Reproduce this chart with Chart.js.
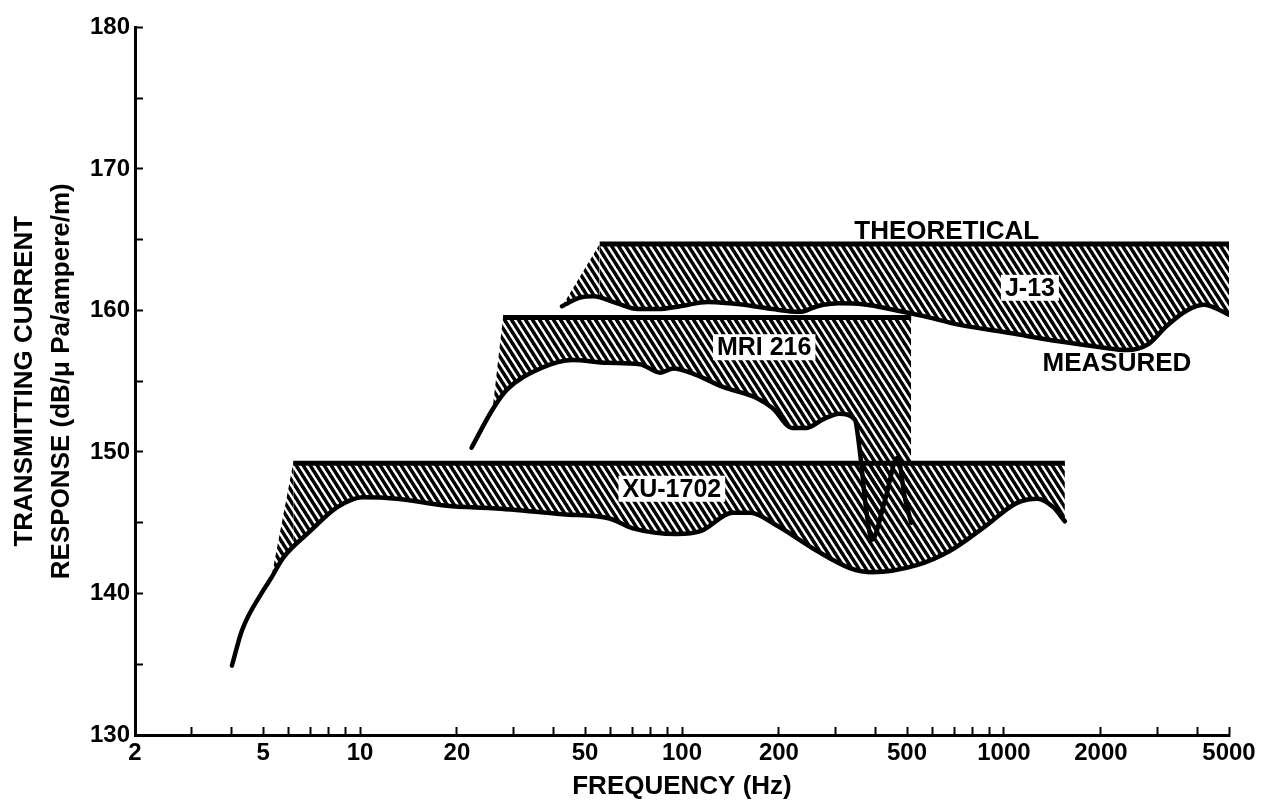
<!DOCTYPE html>
<html>
<head>
<meta charset="utf-8">
<script src="https://cdn.jsdelivr.net/npm/chart.js@4.4.1/dist/chart.umd.min.js"></script>
<style>
  html, body { margin: 0; padding: 0; background: #fff; }
  canvas { display: block; }
</style>
</head>
<body>
<canvas id="chart" width="1262" height="804"></canvas>
<script>
// === ОСИ ===
const xMajorTicks = [2, 5, 10, 20, 50, 100, 200, 500, 1000, 2000, 5000];
const xMinorTicks = [3, 4, 6, 7, 8, 9, 30, 40, 60, 70, 80, 90, 300, 400, 600, 700, 800, 900, 3000, 4000];
const yTickLabels = [130, 140, 150, 160, 170, 180];

// === J-13 ===
const j13Freq = [42.4, 48.2, 53, 62.9, 72.8, 84, 98.8, 120, 141, 167, 191, 232, 263, 308, 375, 442, 563, 723, 1044, 1500, 2000, 2400, 2800, 3200, 3700, 4200, 4600, 5000];
const j13Measured = [160.3, 160.9, 161.0, 160.5, 160.1, 160.1, 160.3, 160.6, 160.5, 160.3, 160.1, 159.9, 160.3, 160.5, 160.4, 160.1, 159.6, 159.0, 158.4, 157.8, 157.4, 157.2, 157.6, 158.9, 160.0, 160.4, 160.1, 159.7];
const j13TheoFreq = [42.4, 55.5, 5000];
const j13Theo = [160.3, 164.7, 164.7];

// === MRI 216 ===
const mriFreq = [22.2, 25.8, 28.6, 36.3, 45.8, 58.5, 74, 85.6, 94, 109, 134, 171, 191, 220, 244, 274, 308, 344, 357, 373, 389, 426, 468, 492, 515];
const mriMeasured = [150.3, 153.0, 154.4, 155.9, 156.5, 156.3, 156.2, 155.6, 155.9, 155.5, 154.6, 153.8, 153.1, 151.7, 151.7, 152.3, 152.7, 152.3, 150.0, 146.0, 143.8, 146.5, 149.6, 146.8, 145.0];
const mriTheoFreq = [25.8, 27.8, 515];
const mriTheo = [153.0, 159.5, 159.5];

// === XU-1702 ===
const xuFreq = [4.0, 4.3, 5.0, 5.3, 5.76, 7.0, 8.5, 10.2, 13, 18.6, 26.6, 42.6, 59.6, 70.4, 96.6, 114, 144, 163, 197, 263, 332, 390, 536, 678, 858, 1098, 1270, 1422, 1546];
const xuMeasured = [134.9, 137.4, 140.2, 141.1, 142.5, 144.4, 146.1, 146.8, 146.7, 146.2, 146.0, 145.6, 145.3, 144.6, 144.2, 144.4, 145.7, 145.7, 144.8, 143.0, 141.8, 141.5, 142.0, 143.0, 144.6, 146.4, 146.7, 146.1, 145.1];
const xuTheoFreq = [5.3, 6.2, 1546];
const xuTheo = [141.1, 149.2, 149.2];

// подписи на графике (в координатах данных)
const notes = [
    { text: 'THEORETICAL', f: 664, v: 165.6, size: 26, box: false },
    { text: 'MEASURED', f: 2243, v: 156.3, size: 26, box: false },
    { text: 'J-13', f: 1204, v: 161.6, size: 25, box: true },
    { text: 'MRI 216', f: 180, v: 157.4, size: 25, box: true },
    { text: 'XU-1702', f: 93, v: 147.4, size: 25, box: true }
];

const FONT = '"Liberation Sans", Arial, sans-serif';
const pts = (xs, ys) => xs.map((x, i) => ({ x, y: ys[i] }));

// штриховка "\\\\"
function makeHatch() {
    const w = 7, h = 11;
    const c = document.createElement('canvas');
    c.width = w; c.height = h;
    const g = c.getContext('2d');
    g.strokeStyle = '#000';
    g.lineWidth = 3.5;
    for (const k of [-1, 0, 1]) {
        g.beginPath();
        g.moveTo(-2, -2 * h / w + k * h);
        g.lineTo(w + 2, h + 2 * h / w + k * h);
        g.stroke();
    }
    return g.createPattern(c, 'repeat');
}
const hatch = makeHatch();

const theoLine = (data) => ({
    data, showLine: true, pointRadius: 0, borderWidth: 5, borderColor: '#000',
    backgroundColor: hatch, fill: '+1', tension: 0,
    segment: { borderColor: ctx => ctx.p0DataIndex === 0 ? 'rgba(0,0,0,0)' : '#000' }
});
const measLine = (data) => ({
    data, showLine: true, pointRadius: 0, borderWidth: 4.5, borderColor: '#000',
    borderCapStyle: 'round', borderJoinStyle: 'round', fill: false,
    cubicInterpolationMode: 'monotone'
});

const notesPlugin = {
    id: 'notes',
    afterDatasetsDraw(chart) {
        const { ctx, scales: { x, y } } = chart;
        ctx.save();
        ctx.textAlign = 'center';
        ctx.textBaseline = 'middle';
        notes.forEach(n => {
            const px = x.getPixelForValue(n.f);
            const py = y.getPixelForValue(n.v);
            ctx.font = `bold ${n.size}px ${FONT}`;
            const w = ctx.measureText(n.text).width;
            if (n.box) {
                ctx.fillStyle = '#fff';
                ctx.fillRect(px - w / 2 - 4, py - 13, w + 8, 26);
            }
            ctx.fillStyle = '#000';
            ctx.fillText(n.text, px, py + 1);
        });
        ctx.restore();
    }
};

new Chart(document.getElementById('chart'), {
    type: 'scatter',
    data: {
        datasets: [
            theoLine(pts(j13TheoFreq, j13Theo)),
            measLine(pts(j13Freq, j13Measured)),
            theoLine(pts(mriTheoFreq, mriTheo)),
            measLine(pts(mriFreq, mriMeasured)),
            theoLine(pts(xuTheoFreq, xuTheo)),
            measLine(pts(xuFreq, xuMeasured))
        ]
    },
    options: {
        responsive: false,
        animation: false,
        events: [],
        layout: { padding: { top: 25, right: 33, bottom: 0, left: 0 } },
        plugins: {
            legend: { display: false },
            tooltip: { enabled: false },
            filler: { drawTime: 'beforeDatasetsDraw' }
        },
        scales: {
            x: {
                type: 'logarithmic',
                min: 2, max: 5000,
                afterBuildTicks: s => {
                    s.ticks = [...xMajorTicks, ...xMinorTicks].sort((a, b) => a - b).map(v => ({ value: v }));
                },
                afterFit: s => { s.height = 69; },
                border: { color: '#000', width: 3 },
                grid: { drawOnChartArea: false, drawTicks: true, tickLength: -8, tickWidth: 2, color: '#000' },
                ticks: {
                    autoSkip: false, maxRotation: 0, padding: 6, color: '#000',
                    font: { family: FONT, size: 24, weight: 'bold', lineHeight: 1.7 },
                    callback: v => xMajorTicks.includes(v) ? String(v) : ''
                },
                title: {
                    display: true, text: 'FREQUENCY (Hz)', color: '#000',
                    font: { family: FONT, size: 26, weight: 'bold' },
                    padding: { top: 0, bottom: 2 }
                }
            },
            y: {
                min: 130, max: 180,
                afterFit: s => { s.width = 135; },
                border: { color: '#000', width: 3 },
                grid: { drawOnChartArea: false, drawTicks: true, tickLength: -8, tickWidth: 2, color: '#000' },
                ticks: {
                    stepSize: 5, padding: 13, color: '#000',
                    font: { family: FONT, size: 24, weight: 'bold' },
                    callback: v => yTickLabels.includes(v) ? String(v) : ''
                },
                title: {
                    display: true,
                    text: ['TRANSMITTING CURRENT', 'RESPONSE (dB/\u03bc Pa/ampere/m)'],
                    color: '#000',
                    font: { family: FONT, size: 26, weight: 'bold', lineHeight: 1.4 },
                    padding: { top: 7, bottom: 0 }
                }
            }
        }
    },
    plugins: [notesPlugin]
});
</script>
</body>
</html>
